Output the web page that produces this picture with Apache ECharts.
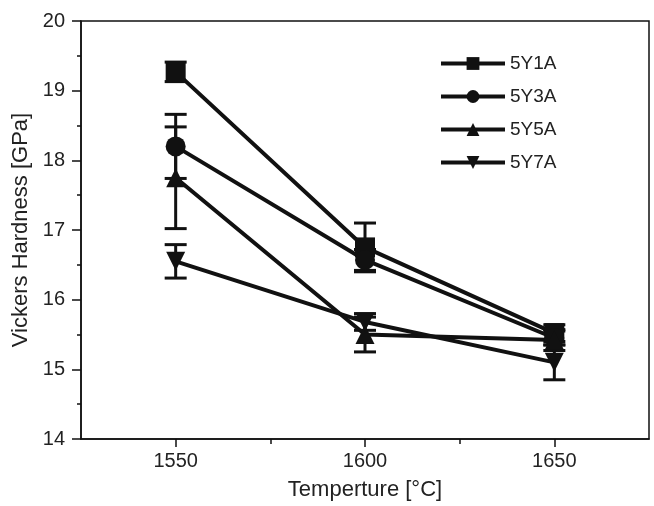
<!DOCTYPE html>
<html>
<head>
<meta charset="utf-8">
<script src="https://cdn.jsdelivr.net/npm/echarts@6/dist/echarts.min.js"></script>
<style>
  html, body { margin: 0; padding: 0; background: #fff; }
  #chart { width: 654px; height: 506px; }
</style>
</head>
<body>
<div id="chart"></div>
<script>
// temperatures (°C)
const temps = [1550, 1600, 1650];
const names = ['5Y1A', '5Y3A', '5Y5A', '5Y7A'];
// hardness [GPa]
const h5Y1A = [19.27, 16.75, 15.52];
const h5Y3A = [18.20, 16.57, 15.45];
const h5Y5A = [17.75, 15.50, 15.42];
const h5Y7A = [16.55, 15.68, 15.10];
// error bar half widths
const e5Y1A = [0.14, 0.35, 0.12];
const e5Y3A = [0.46, 0.15, 0.10];
const e5Y5A = [0.73, 0.25, 0.15];
const e5Y7A = [0.24, 0.12, 0.25];
const yTicks = [14, 15, 16, 17, 18, 19, 20];
const xLabels = [1550, 1600, 1650];
const xMinor = [1575, 1625];

const values = [h5Y1A, h5Y3A, h5Y5A, h5Y7A];
const errors = [e5Y1A, e5Y3A, e5Y5A, e5Y7A];
const symbols = ['rect', 'circle', 'triangle', 'triangle'];
const rotates = [0, 0, 0, 180];
const sizes = [20, 20, 19, 19];

let chart = echarts.init(document.getElementById('chart'));

function errRender(params, api) {
  let x = api.value(0);
  let lo = api.coord([x, api.value(1)]);
  let hi = api.coord([x, api.value(2)]);
  let w = 11;
  let st = { stroke: '#111', lineWidth: 3 };
  return {
    type: 'group',
    children: [
      { type: 'line', shape: { x1: lo[0], y1: lo[1], x2: hi[0], y2: hi[1] }, style: st },
      { type: 'line', shape: { x1: lo[0] - w, y1: lo[1], x2: lo[0] + w, y2: lo[1] }, style: st },
      { type: 'line', shape: { x1: hi[0] - w, y1: hi[1], x2: hi[0] + w, y2: hi[1] }, style: st }
    ]
  };
}

let series = [];
names.forEach(function (n, i) {
  series.push({
    name: n + ' err',
    type: 'custom',
    renderItem: errRender,
    z: 1,
    data: temps.map(function (t, j) {
      return [t, values[i][j] - errors[i][j], values[i][j] + errors[i][j]];
    })
  });
});
names.forEach(function (n, i) {
  series.push({
    name: n,
    type: 'line',
    z: 3,
    symbol: symbols[i],
    symbolRotate: rotates[i],
    symbolSize: sizes[i],
    showAllSymbol: true,
    lineStyle: { color: '#111', width: 4 },
    itemStyle: { color: '#111', borderWidth: 0 },
    emphasis: { disabled: true },
    data: temps.map(function (t, j) { return [t, values[i][j]]; })
  });
});

let option = {
  animation: false,
  backgroundColor: '#fff',
  textStyle: { fontFamily: 'Liberation Sans, Arial, sans-serif', color: '#222' },
  grid: {
    left: 81, right: 5, top: 21, bottom: 65,
    show: true, borderColor: '#111', borderWidth: 1.5
  },
  legend: {
    data: names,
    orient: 'vertical',
    left: 434,
    top: 49,
    itemWidth: 64,
    itemHeight: 16,
    itemGap: 14,
    lineStyle: { width: 4, color: '#111' },
    textStyle: { fontSize: 19, color: '#222', fontFamily: 'Liberation Sans, Arial, sans-serif' }
  },
  xAxis: [{
    type: 'value',
    min: 1525, max: 1675,
    name: 'Temperture [°C]',
    nameLocation: 'middle',
    nameGap: 40,
    nameTextStyle: { fontSize: 22, color: '#222' },
    axisLine: { show: true, lineStyle: { color: '#111', width: 1.5 } },
    axisTick: { show: true, length: 8, customValues: xLabels, lineStyle: { color: '#111', width: 1.5 } },
    axisLabel: { fontSize: 20, color: '#222', margin: 12, customValues: xLabels,
      formatter: function (v) { return String(v); } },
    splitLine: { show: false }
  }, {
    type: 'value',
    position: 'bottom',
    min: 1525, max: 1675,
    axisLine: { show: false },
    axisTick: { show: true, length: 5, customValues: xMinor, lineStyle: { color: '#111', width: 1.5 } },
    axisLabel: { show: false },
    splitLine: { show: false }
  }],
  yAxis: {
    type: 'value',
    min: yTicks[0], max: yTicks[yTicks.length - 1], interval: 1,
    name: 'Vickers Hardness [GPa]',
    nameLocation: 'middle',
    nameGap: 47,
    nameTextStyle: { fontSize: 22, color: '#222' },
    axisLine: { show: true, lineStyle: { color: '#111', width: 1.5 } },
    axisTick: { show: true, length: 9, lineStyle: { color: '#111', width: 1.5 } },
    minorTick: { show: true, splitNumber: 2, length: 4, lineStyle: { color: '#111', width: 1.5 } },
    axisLabel: { fontSize: 20, color: '#222', margin: 16 },
    splitLine: { show: false }
  },
  series: series
};
chart.setOption(option);
</script>
</body>
</html>
